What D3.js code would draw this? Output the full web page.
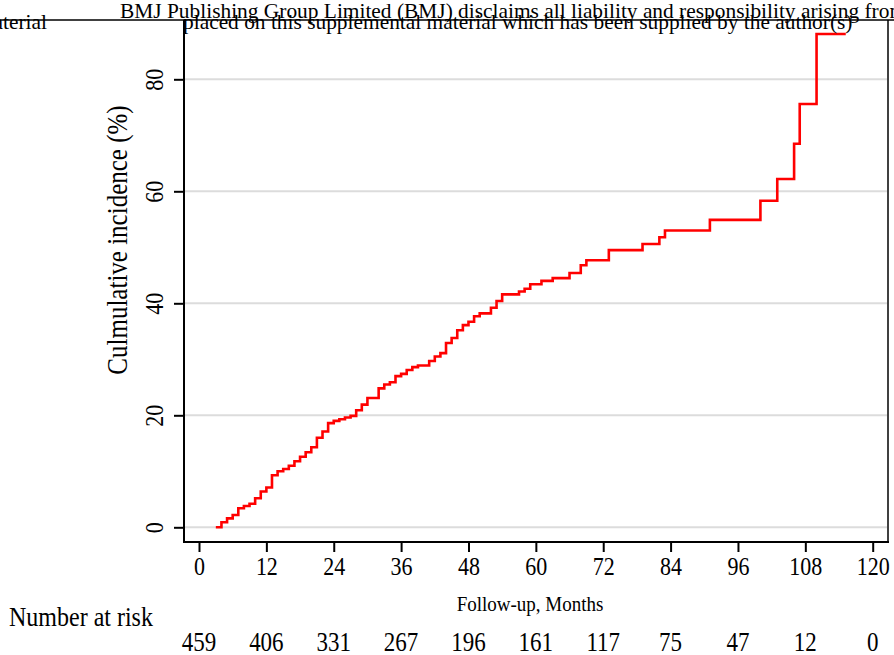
<!DOCTYPE html>
<html>
<head>
<meta charset="utf-8">
<script src="https://cdn.jsdelivr.net/npm/d3@7"></script>
<style>
  body { margin: 0; background: #fff; }
  svg { display: block; }
  text { font-family: "Liberation Serif", "Times New Roman", serif; fill: #000; }
</style>
</head>
<body>
<svg id="chart" width="894" height="655"></svg>
<script>
// Cumulative incidence (%) stepping up at each event month
const months = [3, 4, 5, 6, 7, 8, 9, 10, 11, 12, 13, 14, 15, 16, 17, 18, 19, 20, 21, 22,
  23, 24, 25, 26, 27, 28, 29, 30, 32, 33, 34, 35, 36, 37, 38, 39, 41, 42, 43, 44,
  45, 46, 47, 48, 49, 50, 52, 53, 54, 57, 58, 59, 61, 63, 66, 68, 69, 73, 79, 82,
  83, 91, 100, 103, 106, 107, 110];
const incidence = [0.0, 0.9, 1.6, 2.2, 3.4, 3.8, 4.2, 5.2, 6.4, 7.1, 9.3, 10.0, 10.4, 11.0, 11.8, 12.6, 13.4, 14.3, 16.0, 17.1,
  18.6, 19.0, 19.3, 19.6, 19.9, 20.9, 21.9, 23.1, 24.8, 25.5, 25.9, 27.0, 27.4, 28.1, 28.6, 28.9, 29.7, 30.5, 31.1, 32.9,
  33.8, 35.2, 36.1, 36.7, 37.7, 38.2, 39.2, 40.4, 41.6, 42.1, 42.6, 43.4, 44.0, 44.5, 45.4, 46.8, 47.7, 49.5, 50.6, 51.8,
  53.0, 54.9, 58.3, 62.2, 68.5, 75.6, 88.1];
const lastFollowUp = 115.2;

const xTicks = [0, 12, 24, 36, 48, 60, 72, 84, 96, 108, 120];
const yTicks = [0, 20, 40, 60, 80];
const atRisk = [459, 406, 331, 267, 196, 161, 117, 75, 47, 12, 0];

const headerLine1 = "BMJ Publishing Group Limited (BMJ) disclaims all liability and responsibility arising from";
const headerLine2 = "placed on this supplemental material which has been supplied by the author(s)";
const headerLeft = "material";

const svg = d3.select("#chart");
const frame = { left: 184, right: 888, top: 20, bottom: 542 };
const stretch = 1.15; // tall, narrow serif glyphs

const x = d3.scaleLinear().domain([0, 120]).range([199, 872.7]);
const y = d3.scaleLinear().domain([0, 80]).range([527.3, 79.3]);

// Horizontal gridlines
svg.append("g").selectAll("line").data(yTicks).join("line")
  .attr("x1", frame.left).attr("x2", frame.right - 1)
  .attr("y1", d => y(d)).attr("y2", d => y(d))
  .attr("stroke", "#dcdcdc").attr("stroke-width", 2);

// Step curve
const pts = months.map((m, i) => [m, incidence[i]]);
pts.push([lastFollowUp, incidence[incidence.length - 1]]);
svg.append("path")
  .datum(pts)
  .attr("fill", "none")
  .attr("stroke", "#ff0000")
  .attr("stroke-width", 2.6)
  .attr("d", d3.line().x(d => x(d[0])).y(d => y(d[1])).curve(d3.curveStepAfter));

// Plot frame
const frameG = svg.append("g").attr("stroke", "#000").attr("fill", "none");
frameG.append("line").attr("x1", frame.left).attr("x2", frame.left)
  .attr("y1", frame.top).attr("y2", frame.bottom + 1).attr("stroke-width", 2);
frameG.append("line").attr("x1", frame.left - 1).attr("x2", frame.right + 1)
  .attr("y1", frame.bottom).attr("y2", frame.bottom).attr("stroke-width", 2);
frameG.append("line").attr("x1", frame.right).attr("x2", frame.right)
  .attr("y1", frame.top).attr("y2", frame.bottom).attr("stroke-width", 1.5);
frameG.append("line").attr("x1", 0).attr("x2", 894)
  .attr("y1", frame.top).attr("y2", frame.top).attr("stroke-width", 1.5);

// X axis
const xAxis = svg.append("g")
  .attr("transform", `translate(0,${frame.bottom})`)
  .call(d3.axisBottom(x).tickValues(xTicks).tickSize(10).tickSizeOuter(0));
xAxis.select(".domain").remove();
xAxis.selectAll(".tick line").attr("stroke-width", 2);
xAxis.selectAll(".tick text")
  .attr("y", 0).attr("dy", 0)
  .attr("transform", `translate(0,33) scale(1,${stretch})`)
  .style("font-size", "22px").style("font-family", "Liberation Serif");

// Y axis
const yAxis = svg.append("g")
  .attr("transform", `translate(${frame.left},0)`)
  .call(d3.axisLeft(y).tickValues(yTicks).tickSize(10).tickSizeOuter(0));
yAxis.select(".domain").remove();
yAxis.selectAll(".tick line").attr("stroke-width", 2);
yAxis.selectAll(".tick text")
  .attr("x", 0).attr("y", 0).attr("dy", 0)
  .attr("text-anchor", "middle")
  .attr("transform", `translate(-21.5,0) rotate(-90) scale(1,${stretch})`)
  .style("font-size", "22px").style("font-family", "Liberation Serif");

// Axis titles
svg.append("text")
  .attr("text-anchor", "middle")
  .attr("transform", `translate(127,240) rotate(-90) scale(1,${stretch})`)
  .style("font-size", "25px")
  .text("Culmulative incidence (%)");

svg.append("text")
  .attr("text-anchor", "middle")
  .attr("transform", `translate(530,611) scale(1,${stretch})`)
  .style("font-size", "19px")
  .text("Follow-up, Months");

// Number at risk table
svg.append("text")
  .attr("transform", `translate(9,626) scale(1,${stretch})`)
  .style("font-size", "24px")
  .text("Number at risk");

svg.append("g").selectAll("text").data(atRisk).join("text")
  .attr("text-anchor", "middle")
  .attr("transform", (d, i) => `translate(${x(xTicks[i])},651) scale(1,${stretch})`)
  .style("font-size", "23px")
  .text(d => d);

// Disclaimer header
svg.append("text").attr("x", 120).attr("y", 18).style("font-size", "21.4px").text(headerLine1);
svg.append("text").attr("x", 183).attr("y", 29).style("font-size", "21.4px").text(headerLine2);
svg.append("text").attr("x", 47).attr("y", 29).attr("text-anchor", "end").style("font-size", "21.4px").text(headerLeft);
</script>
</body>
</html>
